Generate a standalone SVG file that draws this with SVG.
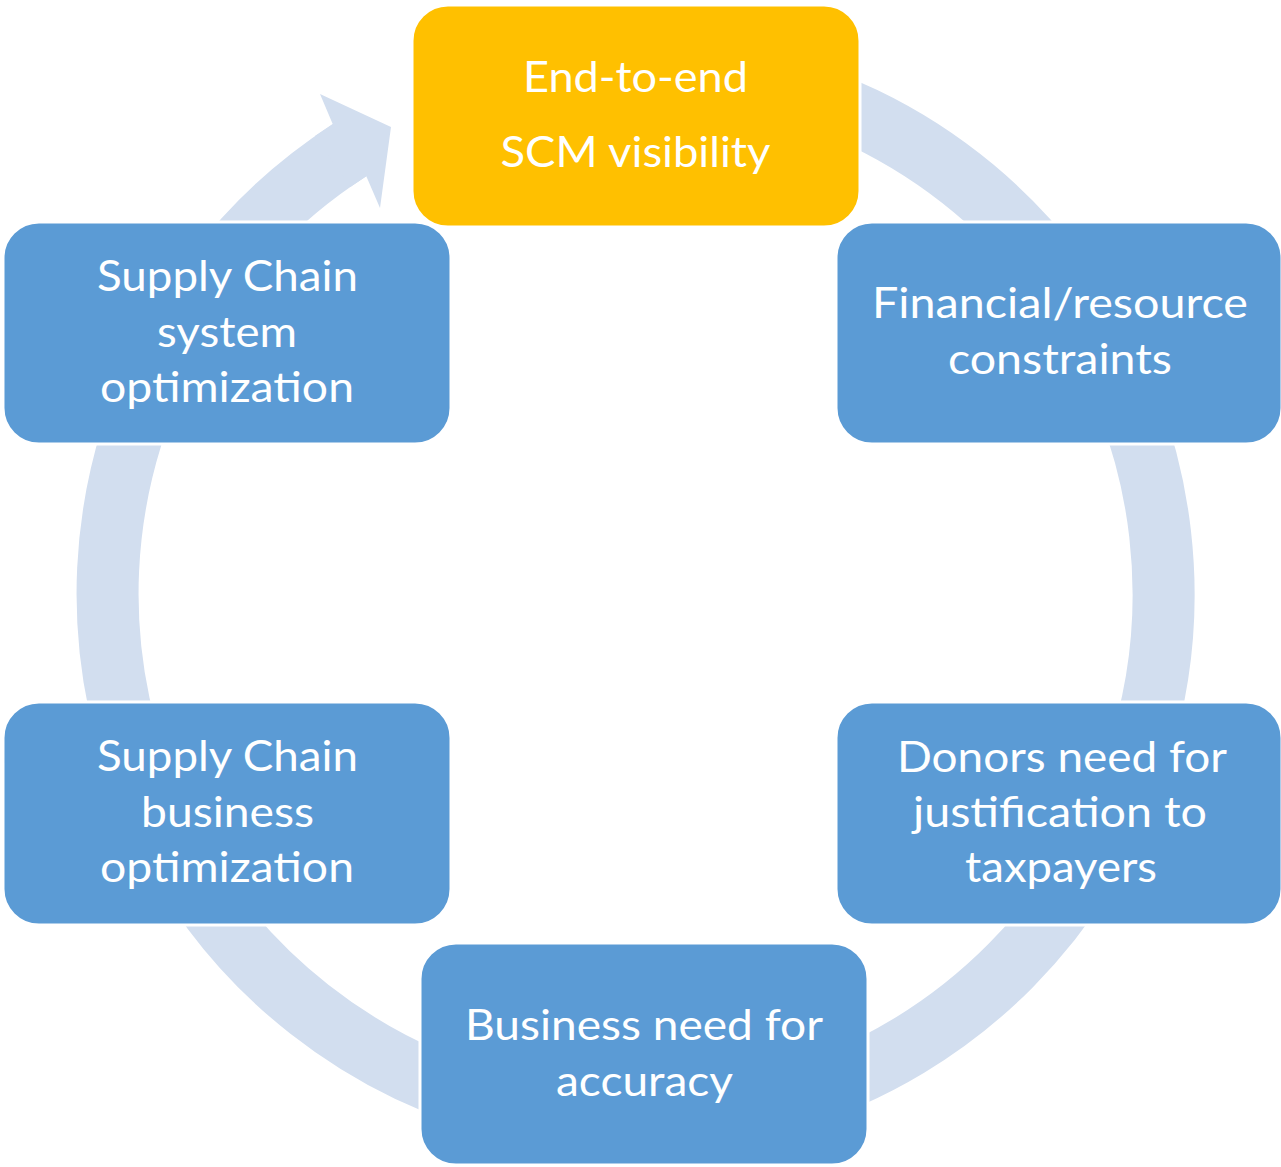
<svg xmlns="http://www.w3.org/2000/svg" width="1281" height="1167" viewBox="0 0 1281 1167">
  <style>
    .ring { fill: none; stroke: #D2DEEF; stroke-width: 62; }
    .head { fill: #D2DEEF; }
    .box { fill: #5B9BD5; stroke: #FFFFFF; stroke-width: 3; }
    .hl { fill: #FFC000; stroke: #FFFFFF; stroke-width: 3; }
    .t { font-family: Lato, "Open Sans", "Liberation Sans", sans-serif; font-size: 43px; fill: #FFFFFF; text-anchor: middle; }
  </style>
  <rect width="1281" height="1167" fill="#FFFFFF"/>
  <g id="connectors">
    <path class="ring" d="M 635.5 66 A 528 528 0 1 1 349.5 150.2"/>
    <polygon class="head" points="314.9,136.1 332.7,124.1 320,94 391,127 380,208 366.3,176.2 350.4,186.9"/>
  </g>
  <g id="node-top">
    <rect class="hl" x="412" y="5" width="448" height="222" rx="36" ry="36"/>
    <text class="t" x="635.5" y="92" textLength="225" lengthAdjust="spacingAndGlyphs">End-to-end</text>
    <text class="t" x="635.5" y="167" textLength="270" lengthAdjust="spacingAndGlyphs">SCM visibility</text>
  </g>
  <g id="node-right-top">
    <rect class="box" x="836" y="222" width="446" height="222" rx="36" ry="36"/>
    <text class="t" x="1060" y="318" textLength="376" lengthAdjust="spacingAndGlyphs">Financial/resource</text>
    <text class="t" x="1060" y="374" textLength="224" lengthAdjust="spacingAndGlyphs">constraints</text>
  </g>
  <g id="node-right-bottom">
    <rect class="box" x="836" y="702" width="446" height="223" rx="36" ry="36"/>
    <text class="t" x="1062" y="772" textLength="330" lengthAdjust="spacingAndGlyphs">Donors need for</text>
    <text class="t" x="1060" y="827" textLength="294" lengthAdjust="spacingAndGlyphs">justification to</text>
    <text class="t" x="1061" y="882" textLength="192" lengthAdjust="spacingAndGlyphs">taxpayers</text>
  </g>
  <g id="node-bottom">
    <rect class="box" x="420" y="943" width="448" height="222" rx="36" ry="36"/>
    <text class="t" x="644" y="1040" textLength="358" lengthAdjust="spacingAndGlyphs">Business need for</text>
    <text class="t" x="644.5" y="1096" textLength="177" lengthAdjust="spacingAndGlyphs">accuracy</text>
  </g>
  <g id="node-left-bottom">
    <rect class="box" x="3" y="702" width="448" height="223" rx="36" ry="36"/>
    <text class="t" x="227.5" y="771" textLength="261" lengthAdjust="spacingAndGlyphs">Supply Chain</text>
    <text class="t" x="227.5" y="827" textLength="173" lengthAdjust="spacingAndGlyphs">business</text>
    <text class="t" x="227" y="882" textLength="254" lengthAdjust="spacingAndGlyphs">optimization</text>
  </g>
  <g id="node-left-top">
    <rect class="box" x="3" y="222" width="448" height="222" rx="36" ry="36"/>
    <text class="t" x="227.5" y="291" textLength="261" lengthAdjust="spacingAndGlyphs">Supply Chain</text>
    <text class="t" x="227" y="347" textLength="140" lengthAdjust="spacingAndGlyphs">system</text>
    <text class="t" x="227" y="402" textLength="254" lengthAdjust="spacingAndGlyphs">optimization</text>
  </g>
</svg>
